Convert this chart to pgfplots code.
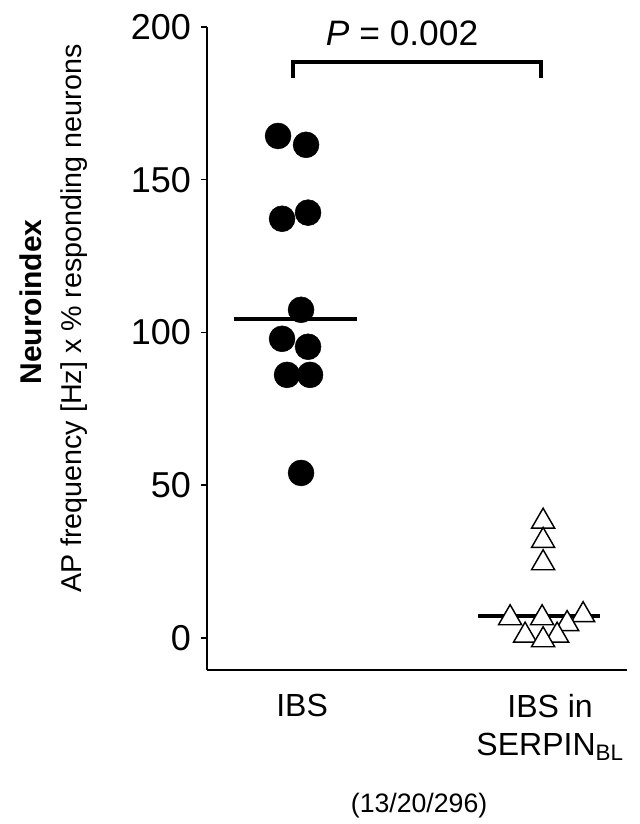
\documentclass[border=0pt]{standalone}
\usepackage{fontspec}
\setmainfont{Liberation Sans}
\usepackage{pgfplots}
\pgfplotsset{compat=1.18}

\begin{document}
\begin{tikzpicture}
\begin{axis}[
  scale only axis,width=315pt,height=482.25pt,
  xmin=0.64,xmax=2.32,ymin=-10.5,ymax=200,
  axis x line=bottom,axis y line=left,
  axis line style={-,line width=1.5pt},
  xtick=\empty,
  ytick={0,50,100,150,200},
  tick align=outside,major tick length=4.5pt,
  every tick/.style={black,line width=1.1pt},
  yticklabel style={font=\fontsize{27}{30}\selectfont,xshift=-4pt},
  /pgf/number format/assume math mode=true,
  clip=false
]
% IBS
\addplot[only marks,mark=*,mark size=9.7pt,black] coordinates {
  (0.924,164.3) (1.036,161.4) (0.940,137.2) (1.044,139.2) (1.016,107.4)
  (0.940,97.9) (1.044,95.3) (0.960,86.1) (1.052,86.1) (1.016,54.0)
};
% IBS in SERPIN_BL
\addplot[only marks,mark=triangle*,mark size=10pt,
  mark options={fill=white,draw=black,line width=1.1pt}] coordinates {
  (1.984,38.1) (1.984,31.8) (1.984,24.5)
  (1.852,6.5) (1.980,6.5) (2.144,7.5) (2.080,4.6)
  (1.912,0.8) (2.040,0.8) (1.984,-0.7)
};
% means
\addplot[black,line width=2.6pt] coordinates {(0.748,104.4) (1.240,104.4)};
\addplot[black,line width=2.6pt] coordinates {(1.724,7.2) (2.212,7.2)};
% significance bracket
\addplot[black,line width=3pt] coordinates {(0.984,183.3) (0.984,188.5) (1.976,188.5) (1.976,183.3)};
\node[font=\fontsize{26.5}{30}\selectfont] at (axis cs:1.42,198) {\textit{P} = 0.002};
% category labels
\node[anchor=north,font=\fontsize{24}{28.5}\selectfont] at (axis cs:1.02,-17) {IBS};
\node[anchor=north,align=center,font=\fontsize{24}{28.5}\selectfont] at (axis cs:2.012,-17) {IBS in\\SERPIN\textsubscript{BL}};
\node[font=\fontsize{20}{24}\selectfont] at (axis cs:1.488,-55) {(13/20/296)};
% y labels
\node[rotate=90,font=\fontsize{21.5}{25}\selectfont] at (axis cs:0.108,104.5) {AP frequency [Hz] x \% responding neurons};
\node[rotate=90,font=\fontsize{22.5}{26}\selectfont\bfseries] at (axis cs:-0.064,110) {Neuroindex};
\coordinate (bbll) at (axis cs:-0.188,-60.9);
\coordinate (bbur) at (axis cs:2.368,208.8);
\end{axis}
\pgfresetboundingbox
\path (bbll) rectangle (bbur);
\end{tikzpicture}
\end{document}
